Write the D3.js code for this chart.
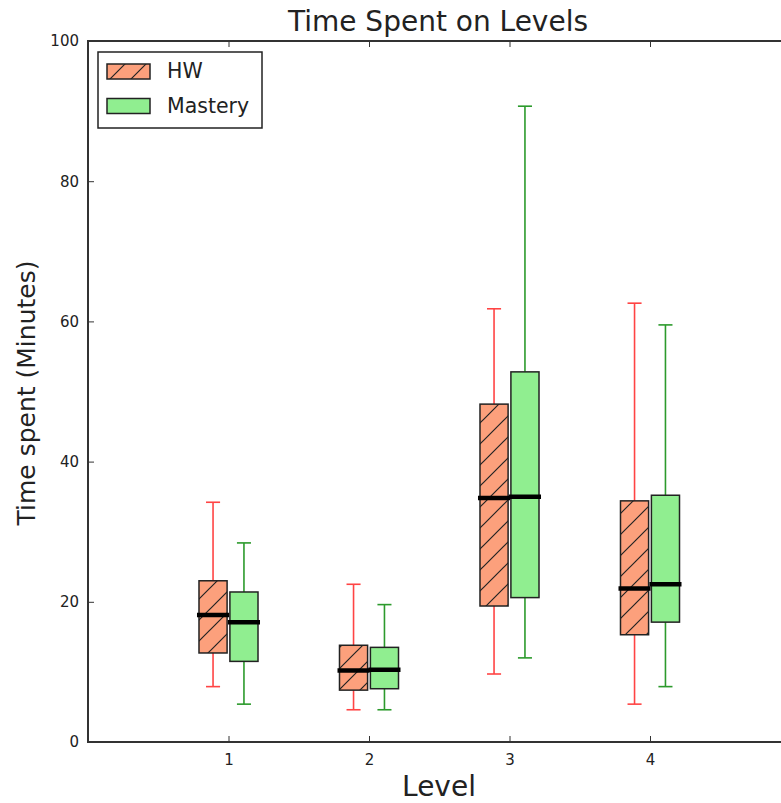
<!DOCTYPE html>
<html>
<head>
<meta charset="utf-8">
<script src="https://cdn.jsdelivr.net/npm/d3@7"></script>
<style>
  body { margin: 0; background: #fff; }
  svg { display: block; font-family: "DejaVu Sans", sans-serif; }
</style>
</head>
<body>
<svg id="chart" width="781" height="803"></svg>
<script>
// levels on the x axis
const levels = [1, 2, 3, 4];
const seriesNames = ['HW', 'Mastery'];

// box stats per level: [lower whisker, q1, median, q3, upper whisker]
const hwStats = [
  [7.9, 12.7, 18.1, 23.0, 34.2],
  [4.6, 7.4, 10.2, 13.8, 22.5],
  [9.7, 19.4, 34.8, 48.2, 61.8],
  [5.4, 15.3, 21.9, 34.4, 62.6]
];
const masteryStats = [
  [5.4, 11.5, 17.1, 21.4, 28.4],
  [4.6, 7.6, 10.3, 13.5, 19.6],
  [12.0, 20.6, 35.0, 52.8, 90.7],
  [7.9, 17.1, 22.5, 35.2, 59.5]
];
const yTicks = [0, 20, 40, 60, 80, 100];

const margin = { left: 88, top: 41, bottom: 742 };
const svg = d3.select('#chart');

const x = d3.scaleLinear().domain([0, 5]).range([margin.left, 790.5]);
const y = d3.scaleLinear().domain([0, 100]).range([margin.bottom, margin.top]);

const series = [
  { name: 'HW', stats: hwStats, offset: -0.11, fill: '#fca07c', whisker: '#ff4444', hatch: true },
  { name: 'Mastery', stats: masteryStats, offset: 0.11, fill: '#90ee90', whisker: '#2c9a2c', hatch: false }
];
const boxW = 0.2;

// hatch pattern for HW boxes
const defs = svg.append('defs');
const pat = defs.append('pattern')
  .attr('id', 'hatch')
  .attr('patternUnits', 'userSpaceOnUse')
  .attr('width', 21).attr('height', 21);
pat.append('rect').attr('width', 21).attr('height', 21).attr('fill', '#fca07c');
pat.append('path')
  .attr('d', 'M-2,23 L23,-2 M-5,5 L5,-5 M16,26 L26,16')
  .attr('stroke', '#222').attr('stroke-width', 1.2);

const plot = svg.append('g');

series.forEach(s => {
  const g = plot.append('g');
  s.stats.forEach((st, i) => {
    const c = levels[i] + s.offset;
    const cx = x(c);
    const x0 = x(c - boxW / 2), x1 = x(c + boxW / 2);
    const cap0 = x(c - boxW / 4), cap1 = x(c + boxW / 4);
    // whiskers
    g.append('line').attr('x1', cx).attr('x2', cx).attr('y1', y(st[0])).attr('y2', y(st[1]))
      .attr('stroke', s.whisker).attr('stroke-width', 1.6);
    g.append('line').attr('x1', cx).attr('x2', cx).attr('y1', y(st[3])).attr('y2', y(st[4]))
      .attr('stroke', s.whisker).attr('stroke-width', 1.6);
    // caps
    [st[0], st[4]].forEach(v => {
      g.append('line').attr('x1', cap0).attr('x2', cap1).attr('y1', y(v)).attr('y2', y(v))
        .attr('stroke', s.whisker).attr('stroke-width', 1.6);
    });
    // box
    g.append('rect')
      .attr('x', x0).attr('y', y(st[3]))
      .attr('width', x1 - x0).attr('height', y(st[1]) - y(st[3]))
      .attr('fill', s.hatch ? 'url(#hatch)' : s.fill)
      .attr('stroke', '#222').attr('stroke-width', 1.5);
  });
});

// medians on top
series.forEach(s => {
  s.stats.forEach((st, i) => {
    const c = levels[i] + s.offset;
    plot.append('line')
      .attr('x1', x(c - boxW / 2) - 2).attr('x2', x(c + boxW / 2) + 2)
      .attr('y1', y(st[2])).attr('y2', y(st[2]))
      .attr('stroke', '#000').attr('stroke-width', 4.5);
  });
});

// axes (ticks inward, classic style)
const xAxis = d3.axisBottom(x).tickValues(levels).tickFormat(d3.format('d'))
  .tickSizeInner(-6).tickSizeOuter(0).tickPadding(12);
const gx = svg.append('g').attr('transform', `translate(0,${margin.bottom})`).call(xAxis);
const xTop = d3.axisTop(x).tickValues(levels).tickSizeInner(-6).tickSizeOuter(0).tickFormat('');
const gxt = svg.append('g').attr('transform', `translate(0,${margin.top})`).call(xTop);
const yAxis = d3.axisLeft(y).tickValues(yTicks).tickFormat(d3.format('d'))
  .tickSizeInner(-6).tickSizeOuter(0).tickPadding(9);
const gy = svg.append('g').attr('transform', `translate(${margin.left},0)`).call(yAxis);

[gx, gxt, gy].forEach(g => {
  g.select('.domain').remove();
  g.selectAll('.tick line').attr('stroke', '#333').attr('stroke-width', 1);
  g.selectAll('.tick text').attr('fill', '#222').style('font-size', '15px').style('font-family', '"DejaVu Sans", sans-serif');
});

// spines
svg.append('path')
  .attr('d', `M790.5,${margin.top} H${margin.left} V${margin.bottom} H790.5`)
  .attr('fill', 'none').attr('stroke', '#333').attr('stroke-width', 2);

// title and labels
svg.append('text').attr('x', 438).attr('y', 31).attr('text-anchor', 'middle')
  .style('font-size', '28px').attr('fill', '#222').text('Time Spent on Levels');
svg.append('text').attr('x', 439).attr('y', 796).attr('text-anchor', 'middle')
  .style('font-size', '28px').attr('fill', '#222').text('Level');
svg.append('text').attr('transform', 'translate(35,393) rotate(-90)').attr('text-anchor', 'middle')
  .style('font-size', '25px').attr('fill', '#222').text('Time spent (Minutes)');

// legend
const lg = svg.append('g');
lg.append('rect').attr('x', 98).attr('y', 52).attr('width', 164).attr('height', 76)
  .attr('fill', '#fff').attr('stroke', '#222').attr('stroke-width', 1.5);
seriesNames.forEach((name, i) => {
  const s = series[i];
  const yy = 64 + i * 34.5;
  lg.append('rect').attr('x', 107).attr('y', yy).attr('width', 43).attr('height', 15)
    .attr('fill', s.hatch ? 'url(#hatch)' : s.fill).attr('stroke', '#222').attr('stroke-width', 1.5);
  lg.append('text').attr('x', 167).attr('y', yy + 14).style('font-size', '20.5px').attr('fill', '#222').text(name);
});
</script>
</body>
</html>
